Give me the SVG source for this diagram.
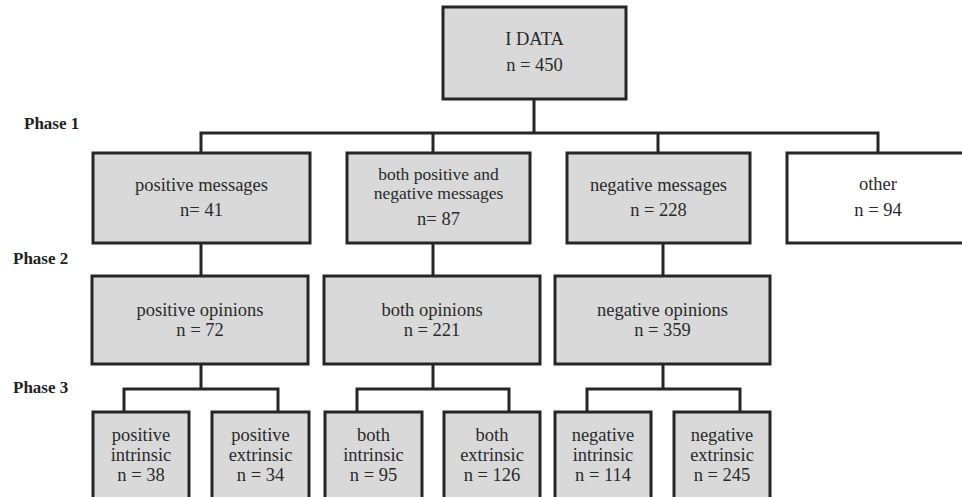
<svg xmlns="http://www.w3.org/2000/svg" width="962" height="497" viewBox="0 0 962 497">
  <style>
    .box { fill: #d9d9d9; stroke: #262626; stroke-width: 3; }
    .plain { fill: #ffffff; stroke: #262626; stroke-width: 3; }
    .link { fill: none; stroke: #262626; stroke-width: 3; }
    text { font-family: "Liberation Serif", "Times New Roman", serif; font-size: 18.5px; fill: #2a2a2a; text-anchor: middle; }
    .tight { font-size: 17.5px; }
    .phase { font-weight: bold; font-size: 17px; text-anchor: start; fill: #222; }
  </style>
  <rect width="962" height="497" fill="#ffffff"/>

  <!-- phase labels -->
  <text class="phase" x="24" y="129">Phase 1</text>
  <text class="phase" x="13" y="264">Phase 2</text>
  <text class="phase" x="13" y="393">Phase 3</text>

  <!-- connectors -->
  <g id="connectors">
    <path class="link" d="M534 99 V133 M201 153 V133 H878 V153 M433 133 V153 M658 133 V153"/>
    <path class="link" d="M201 243 V276 M433 243 V276 M663 243 V276"/>
    <path class="link" d="M201 364 V389 M124 412 V389 H278 V412"/>
    <path class="link" d="M433 364 V389 M357 412 V389 H509 V412"/>
    <path class="link" d="M663 364 V389 M587 412 V389 H740 V412"/>
  </g>

  <!-- root -->
  <g id="root">
    <rect class="box" x="443" y="7" width="183" height="92"/>
    <text x="534.5" y="45">I DATA</text>
    <text x="534.5" y="71">n = 450</text>
  </g>

  <!-- phase 1 -->
  <g id="pos-messages">
    <rect class="box" x="93" y="153" width="217" height="90"/>
    <text x="201.5" y="191">positive messages</text>
    <text x="201.5" y="216">n= 41</text>
  </g>
  <g id="both-messages">
    <rect class="box" x="347" y="153" width="183" height="90"/>
    <text class="tight" x="438.5" y="180">both positive and</text>
    <text class="tight" x="438.5" y="199">negative messages</text>
    <text x="438.5" y="225">n= 87</text>
  </g>
  <g id="neg-messages">
    <rect class="box" x="567" y="153" width="183" height="90"/>
    <text x="658.5" y="191">negative messages</text>
    <text x="658.5" y="216">n = 228</text>
  </g>
  <g id="other">
    <rect class="plain" x="787" y="153" width="183" height="90"/>
    <text x="878" y="190">other</text>
    <text x="878" y="216">n = 94</text>
  </g>

  <!-- phase 2 -->
  <g id="pos-opinions">
    <rect class="box" x="92" y="276" width="216" height="88"/>
    <text x="200" y="316">positive opinions</text>
    <text x="200" y="336">n = 72</text>
  </g>
  <g id="both-opinions">
    <rect class="box" x="324" y="276" width="216" height="88"/>
    <text x="432" y="316">both opinions</text>
    <text x="432" y="336">n = 221</text>
  </g>
  <g id="neg-opinions">
    <rect class="box" x="555" y="276" width="215" height="88"/>
    <text x="662.5" y="316">negative opinions</text>
    <text x="662.5" y="336">n = 359</text>
  </g>

  <!-- phase 3 -->
  <g id="pos-intrinsic">
    <rect class="box" x="93" y="412" width="96" height="100"/>
    <text x="141" y="441">positive</text>
    <text x="141" y="461">intrinsic</text>
    <text x="141" y="481">n = 38</text>
  </g>
  <g id="pos-extrinsic">
    <rect class="box" x="212" y="412" width="97" height="100"/>
    <text x="260.5" y="441">positive</text>
    <text x="260.5" y="461">extrinsic</text>
    <text x="260.5" y="481">n = 34</text>
  </g>
  <g id="both-intrinsic">
    <rect class="box" x="325" y="412" width="97" height="100"/>
    <text x="373.5" y="441">both</text>
    <text x="373.5" y="461">intrinsic</text>
    <text x="373.5" y="481">n = 95</text>
  </g>
  <g id="both-extrinsic">
    <rect class="box" x="444" y="412" width="96" height="100"/>
    <text x="492" y="441">both</text>
    <text x="492" y="461">extrinsic</text>
    <text x="492" y="481">n = 126</text>
  </g>
  <g id="neg-intrinsic">
    <rect class="box" x="555" y="412" width="96" height="100"/>
    <text x="603" y="441">negative</text>
    <text x="603" y="461">intrinsic</text>
    <text x="603" y="481">n = 114</text>
  </g>
  <g id="neg-extrinsic">
    <rect class="box" x="674" y="412" width="96" height="100"/>
    <text x="722" y="441">negative</text>
    <text x="722" y="461">extrinsic</text>
    <text x="722" y="481">n = 245</text>
  </g>
</svg>
